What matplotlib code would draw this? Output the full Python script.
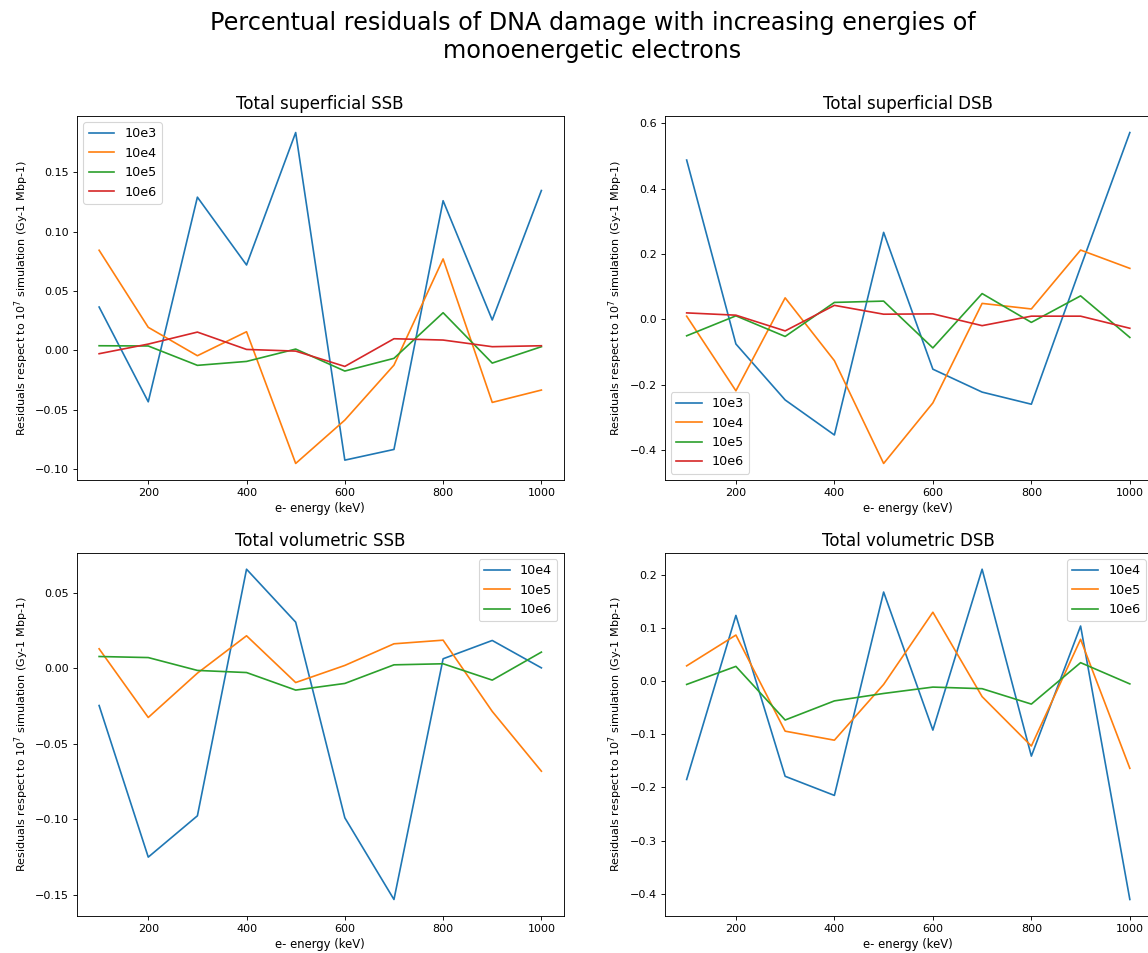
import matplotlib
matplotlib.use("Agg")
import matplotlib.pyplot as plt

# Electron energies (keV)
energies = [100, 200, 300, 400, 500, 600, 700, 800, 900, 1000]

# Total superficial SSB residuals
sup_ssb_10e3 = [0.0365, -0.0433, 0.129, 0.0719, 0.1834, -0.0924, -0.0834, 0.126, 0.0256, 0.1346]
sup_ssb_10e4 = [0.0843, 0.0194, -0.0045, 0.0157, -0.0952, -0.0587, -0.0124, 0.077, -0.0438, -0.0334]
sup_ssb_10e5 = [0.0039, 0.0037, -0.0126, -0.0093, 0.0011, -0.0174, -0.0067, 0.0317, -0.0107, 0.0031]
sup_ssb_10e6 = [-0.0028, 0.0053, 0.0154, 0.0008, -0.0006, -0.0135, 0.0098, 0.0087, 0.0031, 0.0039]

# Total superficial DSB residuals
sup_dsb_10e3 = [0.487, -0.075, -0.246, -0.353, 0.266, -0.152, -0.222, -0.259, 0.16, 0.571]
sup_dsb_10e4 = [0.010, -0.218, 0.066, -0.126, -0.440, -0.255, 0.049, 0.032, 0.212, 0.156]
sup_dsb_10e5 = [-0.050, 0.011, -0.052, 0.052, 0.056, -0.087, 0.079, -0.009, 0.072, -0.055]
sup_dsb_10e6 = [0.020, 0.013, -0.035, 0.043, 0.016, 0.017, -0.019, 0.010, 0.010, -0.027]

# Total volumetric SSB residuals
vol_ssb_10e4 = [-0.0247, -0.1249, -0.0976, 0.0654, 0.0304, -0.0989, -0.1529, 0.0062, 0.0183, 0.0002]
vol_ssb_10e5 = [0.0128, -0.0326, -0.0033, 0.0214, -0.0095, 0.0018, 0.0161, 0.0185, -0.0286, -0.0681]
vol_ssb_10e6 = [0.0077, 0.0070, -0.0015, -0.0029, -0.0145, -0.0101, 0.0022, 0.0029, -0.0079, 0.0106]

# Total volumetric DSB residuals
vol_dsb_10e4 = [-0.185, 0.124, -0.179, -0.215, 0.168, -0.092, 0.211, -0.141, 0.104, -0.411]
vol_dsb_10e5 = [0.029, 0.087, -0.094, -0.111, -0.006, 0.130, -0.029, -0.122, 0.079, -0.164]
vol_dsb_10e6 = [-0.006, 0.028, -0.073, -0.037, -0.023, -0.011, -0.014, -0.043, 0.035, -0.005]

labels4 = ["10e3", "10e4", "10e5", "10e6"]
labels3 = ["10e4", "10e5", "10e6"]

W, H, DPI = 1148, 953, 80
fig = plt.figure(figsize=(W / DPI, H / DPI), dpi=DPI)


def box(x0, y0, x1, y1):
    return [x0 / W, 1 - y1 / H, (x1 - x0) / W, (y1 - y0) / H]


ax_tl = fig.add_axes(box(77, 116, 563.5, 480))
ax_tr = fig.add_axes(box(664.5, 116, 1152, 480))
ax_bl = fig.add_axes(box(77, 552.7, 563.5, 916))
ax_br = fig.add_axes(box(664.5, 552.7, 1152, 916))

ylabel = r"Residuals respect to $10^7$ simulation (Gy-1 Mbp-1)"
xlabel = "e- energy (keV)"

panels = [
    (ax_tl, "Total superficial SSB", [sup_ssb_10e3, sup_ssb_10e4, sup_ssb_10e5, sup_ssb_10e6], labels4, "upper left"),
    (ax_tr, "Total superficial DSB", [sup_dsb_10e3, sup_dsb_10e4, sup_dsb_10e5, sup_dsb_10e6], labels4, "lower left"),
    (ax_bl, "Total volumetric SSB", [vol_ssb_10e4, vol_ssb_10e5, vol_ssb_10e6], labels3, "upper right"),
    (ax_br, "Total volumetric DSB", [vol_dsb_10e4, vol_dsb_10e5, vol_dsb_10e6], labels3, "upper right"),
]

for ax, title, series, labels, loc in panels:
    for vals, lab in zip(series, labels):
        ax.plot(energies, vals, label=lab)
    ax.set_title(title, fontsize=15)
    ax.set_xlabel(xlabel, fontsize=10.5)
    ax.set_ylabel(ylabel, fontsize=10)
    ax.legend(loc=loc, fontsize=11.5)

fig.suptitle("Percentual residuals of DNA damage with increasing energies of\nmonoenergetic electrons",
             x=0.516, y=0.988, fontsize=21.5)

fig.savefig("out.png", dpi=DPI)
